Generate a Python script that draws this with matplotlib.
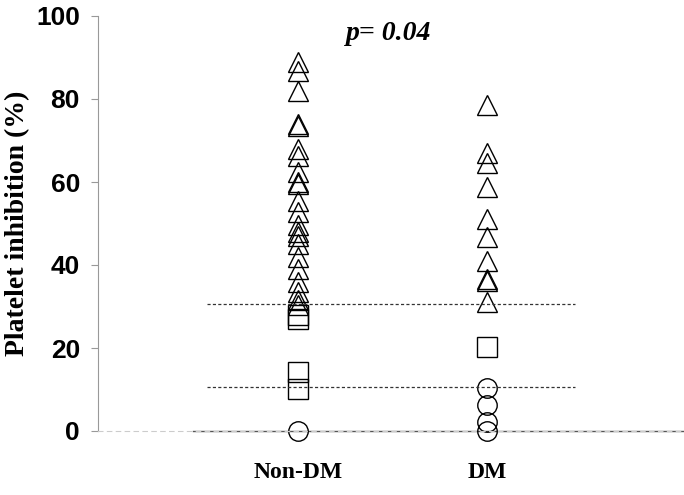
import numpy as np
import matplotlib
matplotlib.use("Agg")
import matplotlib.pyplot as plt

##Data##
groups = ["Non-DM", "DM"]
group_x = [1, 2]

nondm_triangles = [89, 86.8, 82, 74, 73.5, 68, 66.3, 62.4, 60, 59.5, 55.4, 52.8,
                   49.6, 48, 47, 45, 42, 39, 36, 33.5, 31.6, 30.4]
nondm_squares = [28, 27, 14.2, 10.1]
nondm_circles = [0]

dm_triangles = [78.5, 67, 64.5, 58.8, 51, 46.7, 41, 36.6, 36.2, 31]
dm_squares = [20.2]
dm_circles = [10.4, 6.3, 2.2, 0]

cutoffs = [30.6, 10.6]
yticks = [0, 20, 40, 60, 80, 100]
p_text = "p= 0.04"

fig = plt.figure(figsize=(6.84, 4.95), dpi=100)
ax = fig.add_axes([98/684, 64/495, 586/684, 415/495])

ms = 14
style = dict(linestyle="none", markerfacecolor="none", markeredgecolor="black",
             markeredgewidth=1.0, markersize=ms, clip_on=False)

series = [(group_x[0], nondm_triangles, nondm_squares, nondm_circles),
          (group_x[1], dm_triangles, dm_squares, dm_circles)]
for gx, tri, sq, circ in series:
    ax.plot([gx]*len(tri), tri, marker="^", **style)
    ax.plot([gx]*len(sq), sq, marker="s", **style)
    ax.plot([gx]*len(circ), circ, marker="o", **style)

##Cut-off lines##
for c in cutoffs:
    ax.plot([0.519, 2.466], [c, c], linestyle=(0, (2.5, 1.8)), color="#333333", lw=0.9)

##Base line##
ax.plot([0.444, 3.042], [0, 0], color="#555555", lw=1.0, clip_on=False, zorder=1)

ax.set_xlim(-0.058, 3.042)
ax.set_ylim(0, 100)

for s in ["top", "right"]:
    ax.spines[s].set_visible(False)
ax.spines["left"].set_color("#999999")
ax.spines["left"].set_linewidth(0.8)
ax.spines["bottom"].set_color("#cccccc")
ax.spines["bottom"].set_linewidth(0.8)
ax.spines["bottom"].set_linestyle((0, (4, 4)))

ax.set_yticks(yticks)
ax.set_yticklabels([str(t) for t in yticks], fontfamily="Liberation Sans",
                   fontweight="bold", fontsize=19)
ax.tick_params(axis="y", length=5, width=0.8, color="#999999", pad=8)

ax.set_xticks(group_x)
ax.set_xticklabels(groups, fontfamily="Liberation Serif", fontweight="bold", fontsize=17)
ax.tick_params(axis="x", length=0, pad=22)

ax.set_ylabel("Platelet inhibition (%)", fontfamily="Liberation Serif",
              fontweight="bold", fontsize=20, labelpad=4)

ax.text(1.48, 98.8, p_text, fontfamily="Liberation Serif", fontweight="bold",
        fontstyle="italic", fontsize=20, ha="center", va="top")

fig.savefig("out.png", dpi=100)
